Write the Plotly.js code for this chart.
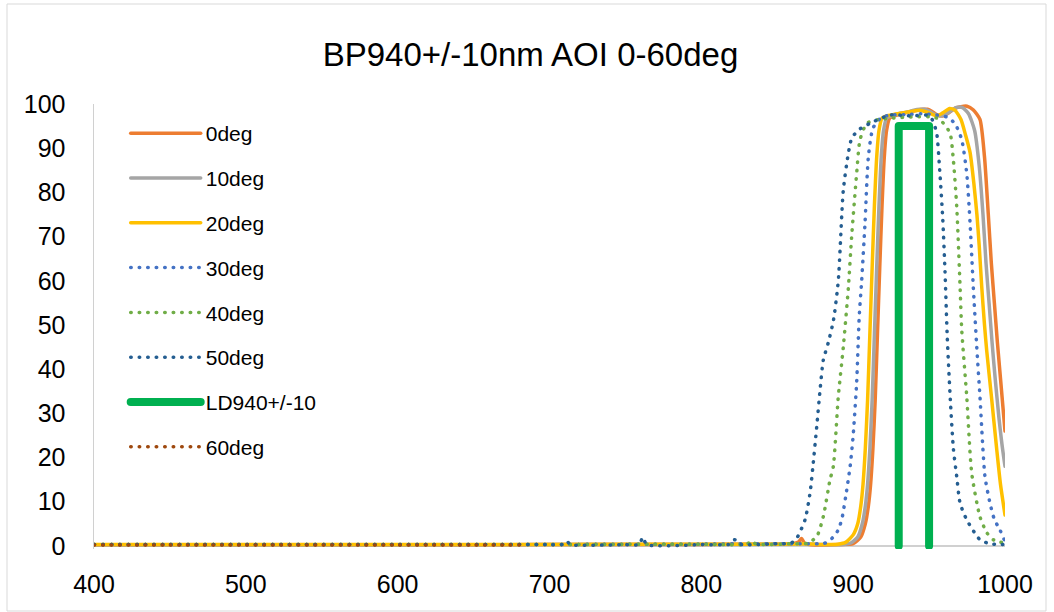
<!DOCTYPE html>
<html>
<head>
<meta charset="utf-8">
<script src="https://cdn.plot.ly/plotly-3.0.1.min.js"></script>
<style>
html,body{margin:0;padding:0;background:#fff;}
#chart{width:1054px;height:612px;}
path.js-line{stroke-linecap:round !important;stroke-linejoin:round !important;}
</style>
</head>
<body>
<div id="chart"></div>
<script>
// Series names (legend order)
const seriesNames = ["0deg","10deg","20deg","30deg","40deg","50deg","LD940+/-10","60deg"];
const xTicks = [400,500,600,700,800,900,1000];
const yTicks = [0,10,20,30,40,50,60,70,80,90,100];

// 0deg
const x0 = [400,450,500,550,600,650,700,750,800,830,850,860,864,866,868,875,890,900,905,908,910,911.5,913,914.5,916,917.5,919,920.5,922,924,927,932,938,942,946,949,952,955,959,963,967,971,975,979,983.5,986.5,989,991,993,995,997,999,1000];
const y0 = [0.2,0.2,0.2,0.2,0.2,0.2,0.3,0.3,0.3,0.4,0.4,0.5,0.9,1.7,0.6,0.2,0.3,0.5,2,5,9,14,22,33,48,63,77,88,94,96.8,97.3,97.8,98.3,98.6,98.8,98.8,98.3,97.6,97.3,98,99,99.4,99.5,98.7,96.5,88,75,64,55,46,38,30,26];
// 10deg
const x10 = [400,500,600,700,800,850,870,880,893,898,903,906,908,909.5,911,912.5,914,915.5,917,918.5,920,922,925,930,936,940,944,947,950,953,957,961,965,968,972,976,980,983,985.5,987.5,989.5,991.5,993.5,996,998,1000];
const y10 = [0.2,0.2,0.2,0.3,0.3,0.4,0.5,0.3,0.3,0.6,2,5,9,14,22,33,48,63,77,88,94,96.8,97.3,97.8,98.2,98.6,98.8,98.8,98.4,97.8,97.3,97.6,98.6,99.2,99.2,97.8,94,86,75,64,55,46,38,29,23,18];
// 20deg
const x20 = [400,500,600,700,800,850,870,880,890,895,900,903,905,906.5,908,909.5,911,912.5,914,915.5,917,919,922,926,931,938,944,950,955,959,963.5,967,971,974,977,979.5,981.5,983,984.6,986.5,988,991,994.5,997,1000];
const y20 = [0.3,0.3,0.3,0.3,0.4,0.4,0.5,0.3,0.4,0.8,2.5,5,9,14,22,33,48,63,77,88,94,96.8,97.3,97.6,97.9,98.3,98.6,98,97.3,98,99,98.6,96.5,93,89,82,75,68,59,50,44,34,22,14,7];
// 30deg
const x30 = [400,500,600,700,750,800,830,850,870,880,884,887,890,892.5,895,898,900,902.3,904,905.6,907.8,910,913,918,924,935,945,955,962,967,971.5,974.8,977,979.1,981.4,983.5,986.8,990.1,993,996.7,1000];
const y30 = [0.3,0.3,0.3,0.3,0.4,0.4,0.5,0.5,0.5,0.5,1,2.1,3.5,6,11,18,25,37,52,60,73,88,94.5,96.8,97.5,97.6,97.8,97.5,97,95.6,91.9,84.3,73,58.7,45,33.8,15.7,9.7,6,3.6,1];
// 40deg
const x40 = [400,500,600,700,800,830,833,836,860,870,876,880.3,884.7,886.9,890.2,893.5,896.8,899,902.3,904.5,908.9,915.5,925,939.6,950,955,959,963.8,966,968.2,970.4,971.5,974.8,978.1,983.5,988,992.3,1000];
const y40 = [0.3,0.3,0.3,0.3,0.4,0.4,1.2,0.4,0.5,0.6,2.1,6.6,14.9,17.9,33.8,45,58.3,70,84.3,91.9,95.6,96.4,96.8,97.1,97.1,96.8,95.8,93.4,87.3,76.8,58.7,48.9,33.8,16.4,6.6,3,1.4,0.6];
// 50deg
const x50 = [400,500,600,700,708,711,714,750,759,761.5,764,800,819,822,825,850,855,860,862.8,868.3,871.6,873.5,876,878.2,880.3,883.6,887,890.2,893.5,896.8,899,903.4,911,924.3,939.4,948.4,952,955,957,959,960.5,962,964,966,968.2,970.4,974.8,983.5,990,1000];
const y50 = [0.3,0.3,0.3,0.3,0.3,1.1,0.3,0.3,0.3,2,0.3,0.3,0.4,1.4,0.4,0.5,0.5,0.8,1.7,5.9,12,18,27,35.3,42,46,51,60,80.5,88.8,92.2,94.1,95.6,97.5,97.3,97.5,96.5,93.4,85,74,62,47,33,22,15.7,9.7,5.9,1.4,0.5,0.3];
// LD940+/-10 window
const xLD = [930,930,950,950];
const yLD = [0,95,95,0];
// 60deg
const x60 = [400,450,500,550,600,650,680];
const y60 = [0.2,0.2,0.2,0.2,0.2,0.2,0.2];

const xs = [x0,x10,x20,x30,x40,x50,xLD,x60];
const ys = [y0,y10,y20,y30,y40,y50,yLD,y60];
const colors = ["#ED7D31","#A5A5A5","#FFC000","#4472C4","#70AD47","#255E91","#00B050","#9E480E"];
const widths = [3.5,3.5,3.5,3.5,3.5,3.5,8,3.5];
const dashes = ["solid","solid","solid","0.5px,8px","0.5px,8px","0.5px,8px","solid","0.5px,8px"];

const traces = seriesNames.map((n,i)=>({
  type:"scatter", mode:"lines", name:n, x:xs[i], y:ys[i],
  legendgroup:"g"+i,
  line:{color:colors[i], width:widths[i], dash:dashes[i], shape:(i===6?"linear":"spline"), smoothing:0.6},
  hoverinfo:"skip"
}));

const font = "'Liberation Sans', Arial, sans-serif";
const layout = {
  width:1054, height:612,
  margin:{l:94, r:49, t:104, b:63, pad:0},
  paper_bgcolor:"#ffffff", plot_bgcolor:"#ffffff",
  font:{family:font, color:"#000000"},
  title:{text:"BP940+/-10nm AOI 0-60deg", font:{size:33, family:font, color:"#000000"},
         x:0.5033, xref:"container", xanchor:"center", y:0.9109, yref:"container", yanchor:"middle"},
  showlegend:true,
  legend:{x:0.0348, y:0.9797, xanchor:"left", yanchor:"top", font:{size:21, family:font, color:"#000000"},
          bgcolor:"rgba(0,0,0,0)", borderwidth:0, itemwidth:70, traceorder:"grouped", tracegroupgap:14.5},
  xaxis:{range:[400,1000], tickvals:xTicks, ticktext:xTicks.map(String), showgrid:false, zeroline:false,
         showline:false, ticks:"", tickfont:{size:25, family:font, color:"#000000"}, ticklabelstandoff:18, fixedrange:true},
  yaxis:{range:[-0.7,100], tickvals:yTicks, ticktext:yTicks.map(String), showgrid:false,
         zeroline:true, zerolinecolor:"#D0D0D0", zerolinewidth:1.5,
         showline:true, linecolor:"#D0D0D0", linewidth:1.5, ticks:"",
         tickfont:{size:25, family:font, color:"#000000"}, ticklabelstandoff:22, fixedrange:true},
  shapes:[{type:"rect", xref:"paper", yref:"paper",
           x0:(7-94)/911, x1:(1046-94)/911, y0:(549-611)/445, y1:(549-4)/445,
           line:{color:"#D9D9D9", width:1}, fillcolor:"rgba(0,0,0,0)", layer:"below"}]
};

Plotly.newPlot("chart", traces, layout, {displayModeBar:false, staticPlot:true});
</script>
</body>
</html>
